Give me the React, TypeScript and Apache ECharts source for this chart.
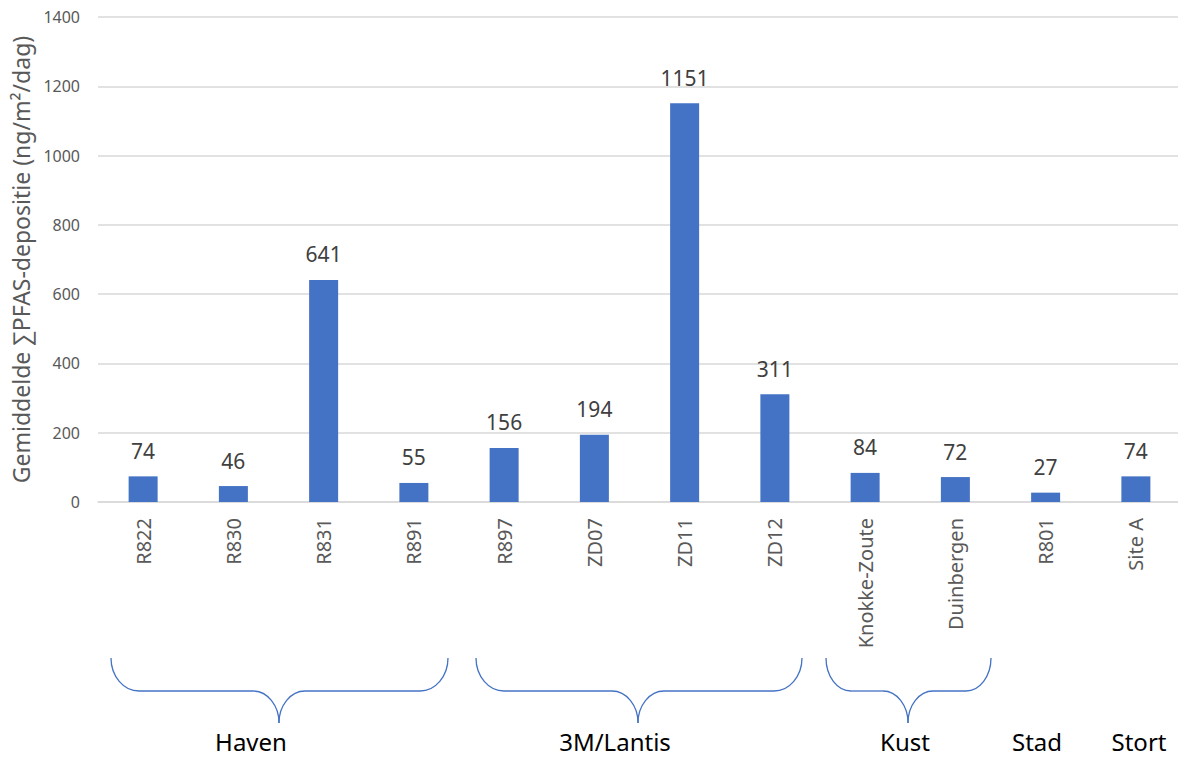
import React, { useEffect, useRef } from "react";
import * as echarts from "echarts";

const categories = ["R822", "R830", "R831", "R891", "R897", "ZD07", "ZD11", "ZD12", "Knokke-Zoute", "Duinbergen", "R801", "Site A"];
const values = [74, 46, 641, 55, 156, 194, 1151, 311, 84, 72, 27, 74];
const yAxisTitle = "Gemiddelde ∑PFAS-depositie (ng/m²/dag)";
const yMax = 1400;
const yInterval = 200;
const groupNames = ["Haven", "3M/Lantis", "Kust", "Stad", "Stort"];

const FONT = "'Noto Sans', 'Open Sans', sans-serif";
const BRACE_COLOR = "#4472c4";

function brace(x0: number, x1: number, xc: number, yTop: number, yMid: number, yTip: number, rEnd: number, rMid: number) {
  const k = 0.55;
  const h1 = yMid - yTop;
  const h2 = yTip - yMid;
  const style = { stroke: BRACE_COLOR, lineWidth: 1.3, fill: null as any };
  const curve = (s: any) => ({ type: "bezierCurve", shape: s, style, silent: true });
  const line = (a: number, b: number) => ({ type: "line", shape: { x1: a, y1: yMid, x2: b, y2: yMid }, style, silent: true });
  return [
    curve({ x1: x0, y1: yTop, cpx1: x0, cpy1: yTop + k * h1, cpx2: x0 + rEnd * (1 - k), cpy2: yMid, x2: x0 + rEnd, y2: yMid }),
    line(x0 + rEnd, xc - rMid),
    curve({ x1: xc - rMid, y1: yMid, cpx1: xc - rMid * (1 - k), cpy1: yMid, cpx2: xc, cpy2: yTip - k * h2, x2: xc, y2: yTip }),
    curve({ x1: xc, y1: yTip, cpx1: xc, cpy1: yTip - k * h2, cpx2: xc + rMid * (1 - k), cpy2: yMid, x2: xc + rMid, y2: yMid }),
    line(xc + rMid, x1 - rEnd),
    curve({ x1: x1 - rEnd, y1: yMid, cpx1: x1 - rEnd * (1 - k), cpy1: yMid, cpx2: x1, cpy2: yTop + k * h1, x2: x1, y2: yTop }),
  ];
}

export default function App() {
  const ref = useRef<HTMLDivElement>(null);
  useEffect(() => {
    if (!ref.current) return;
    const chart = echarts.init(ref.current, null, { renderer: "svg" });
    const labelXs = [251, 615, 905, 1037, 1139];
    const groupTexts = groupNames.map((n, i) => ({
      type: "text",
      x: labelXs[i],
      y: 741,
      style: { text: n, font: `24px ${FONT}`, fill: "#000000", align: "center", verticalAlign: "middle" },
      silent: true,
    }));
    chart.setOption({
      animation: false,
      backgroundColor: "#ffffff",
      grid: { left: 98, right: 9, top: 17, bottom: 256 },
      xAxis: {
        type: "category",
        data: categories,
        axisLine: { lineStyle: { color: "#d9d9d9", width: 1.5 } },
        axisTick: { show: false },
        axisLabel: { rotate: 90, color: "#595959", fontSize: 20, fontFamily: FONT, margin: 16, interval: 0 },
      },
      yAxis: {
        type: "value",
        min: 0,
        max: yMax,
        interval: yInterval,
        name: yAxisTitle,
        nameLocation: "middle",
        nameGap: 66,
        nameTextStyle: { color: "#595959", fontSize: 23, fontFamily: FONT },
        axisLine: { show: false },
        axisTick: { show: false },
        axisLabel: { color: "#595959", fontSize: 16, fontFamily: FONT, margin: 18, formatter: (v: number) => String(v) },
        splitLine: { lineStyle: { color: "#d9d9d9", width: 1.5 } },
      },
      series: [
        {
          type: "bar",
          data: values,
          barWidth: 29,
          itemStyle: { color: "#4472c4" },
          label: { show: true, position: "top", distance: 15, color: "#404040", fontSize: 21, fontFamily: FONT },
        },
      ],
      graphic: [
        ...brace(111, 448, 279, 658, 691, 723, 28, 26),
        ...brace(476, 802, 638, 658, 691, 723, 28, 26),
        ...brace(826, 991, 908, 658, 691, 723, 25, 25),
        ...groupTexts,
      ],
    });
    return () => chart.dispose();
  }, []);
  return (
    <div style={{ position: "absolute", left: 0, top: 0, width: 1178, height: 758, overflow: "hidden", background: "#fff" }}>
      <div ref={ref} style={{ position: "absolute", left: 0, top: 0, width: 1190, height: 758 }} />
    </div>
  );
}
